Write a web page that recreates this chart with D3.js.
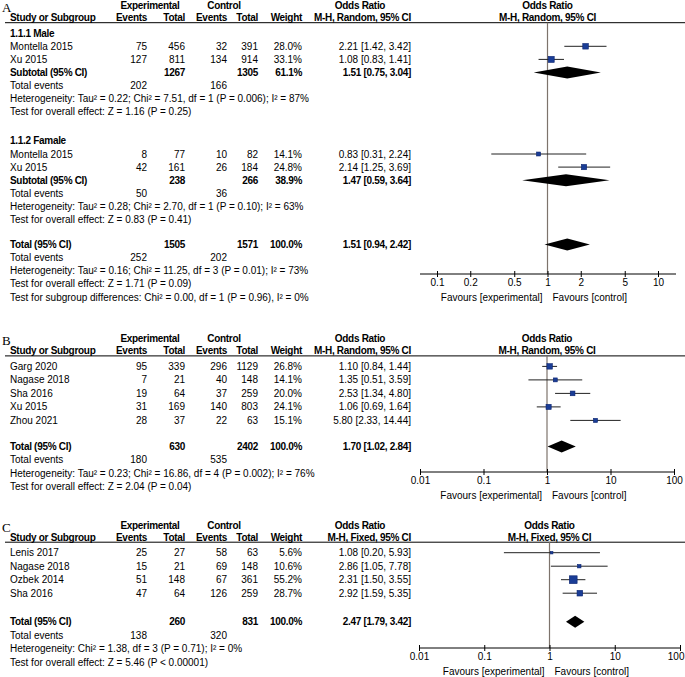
<!DOCTYPE html>
<html>
<head>
<meta charset="utf-8">
<script src="https://cdn.jsdelivr.net/npm/d3@7"></script>
<style>
  body { margin: 0; background: #fff; }
  text { font-family: "Liberation Sans", Arial, sans-serif; font-size: 10px; fill: #000; }
  .b { font-weight: bold; letter-spacing: -0.3px; }
  .panel-label { font-family: "Liberation Serif", "Times New Roman", serif; font-size: 13px; }
</style>
</head>
<body>
<svg width="685" height="677"></svg>
<script>
// ---------- data ----------
// counts = [exp events, exp total, ctrl events, ctrl total], or = [OR, lower, upper]

// A, 1.1.1 Male
var maleStudies = ["Montella 2015", "Xu 2015"]
var maleCounts = [[75, 456, 32, 391], [127, 811, 134, 914]]
var maleWeights = [28.0, 33.1]
var maleOR = [[2.21, 1.42, 3.42], [1.08, 0.83, 1.41]]
var maleSubtotal = [1267, 1305, 61.1]
var maleSubOR = [1.51, 0.75, 3.04]
var maleEvents = [202, 166]
var maleStats = ["Heterogeneity: Tau² = 0.22; Chi² = 7.51, df = 1 (P = 0.006); I² = 87%",
                 "Test for overall effect: Z = 1.16 (P = 0.25)"]

// A, 1.1.2 Famale
var femaleStudies = ["Montella 2015", "Xu 2015"]
var femaleCounts = [[8, 77, 10, 82], [42, 161, 26, 184]]
var femaleWeights = [14.1, 24.8]
var femaleOR = [[0.83, 0.31, 2.24], [2.14, 1.25, 3.69]]
var femaleSubtotal = [238, 266, 38.9]
var femaleSubOR = [1.47, 0.59, 3.64]
var femaleEvents = [50, 36]
var femaleStats = ["Heterogeneity: Tau² = 0.28; Chi² = 2.70, df = 1 (P = 0.10); I² = 63%",
                   "Test for overall effect: Z = 0.83 (P = 0.41)"]

// A, overall
var totalA = [1505, 1571, 100.0]
var totalAOR = [1.51, 0.94, 2.42]
var totalAEvents = [252, 202]
var totalAStats = ["Heterogeneity: Tau² = 0.16; Chi² = 11.25, df = 3 (P = 0.01); I² = 73%",
                   "Test for overall effect: Z = 1.71 (P = 0.09)",
                   "Test for subgroup differences: Chi² = 0.00, df = 1 (P = 0.96), I² = 0%"]
var ticksA = [0.1, 0.2, 0.5, 1, 2, 5, 10]

// B
var studiesB = ["Garg 2020", "Nagase 2018", "Sha 2016", "Xu 2015", "Zhou 2021"]
var countsB = [[95, 339, 296, 1129], [7, 21, 40, 148], [19, 64, 37, 259], [31, 169, 140, 803], [28, 37, 22, 63]]
var weightsB = [26.8, 14.1, 20.0, 24.1, 15.1]
var orB = [[1.10, 0.84, 1.44], [1.35, 0.51, 3.59], [2.53, 1.34, 4.80], [1.06, 0.69, 1.64], [5.80, 2.33, 14.44]]
var totalB = [630, 2402, 100.0]
var totalBOR = [1.70, 1.02, 2.84]
var totalBEvents = [180, 535]
var totalBStats = ["Heterogeneity: Tau² = 0.23; Chi² = 16.86, df = 4 (P = 0.002); I² = 76%",
                   "Test for overall effect: Z = 2.04 (P = 0.04)"]

// C
var studiesC = ["Lenis 2017", "Nagase 2018", "Ozbek 2014", "Sha 2016"]
var countsC = [[25, 27, 58, 63], [15, 21, 69, 148], [51, 148, 67, 361], [47, 64, 126, 259]]
var weightsC = [5.6, 10.6, 55.2, 28.7]
var orC = [[1.08, 0.20, 5.93], [2.86, 1.05, 7.78], [2.31, 1.50, 3.55], [2.92, 1.59, 5.35]]
var totalC = [260, 831, 100.0]
var totalCOR = [2.47, 1.79, 3.42]
var totalCEvents = [138, 320]
var totalCStats = ["Heterogeneity: Chi² = 1.38, df = 3 (P = 0.71); I² = 0%",
                   "Test for overall effect: Z = 5.46 (P < 0.00001)"]
var ticksBC = [0.01, 0.1, 1, 10, 100]

// ---------- layout ----------
var svg = d3.select("svg"),
    width = +svg.attr("width")
var col = { name: 10, expEv: 147, expTot: 185, ctlEv: 227, ctlTot: 258, weight: 302, orText: 411 }
var fmt = d3.format(".2f"), pct = d3.format(".1f")

function studyRows(names, counts, weights, ors) {
    return names.map((n, i) => ({ kind: "study", name: n, counts: counts[i], w: weights[i], or: ors[i] }))
}
function noteRows(list) { return list.map(t => ({ kind: "note", text: t })) }

var rowsA = [{ kind: "group", name: "1.1.1 Male" }]
    .concat(studyRows(maleStudies, maleCounts, maleWeights, maleOR))
    .concat([{ kind: "sub", name: "Subtotal (95% CI)", tot: maleSubtotal, or: maleSubOR },
             { kind: "events", ev: maleEvents }])
    .concat(noteRows(maleStats))
    .concat([{ kind: "gap", h: 16 }, { kind: "group", name: "1.1.2 Famale" }])
    .concat(studyRows(femaleStudies, femaleCounts, femaleWeights, femaleOR))
    .concat([{ kind: "sub", name: "Subtotal (95% CI)", tot: femaleSubtotal, or: femaleSubOR },
             { kind: "events", ev: femaleEvents }])
    .concat(noteRows(femaleStats))
    .concat([{ kind: "gap", h: 12 },
             { kind: "sub", name: "Total (95% CI)", tot: totalA, or: totalAOR },
             { kind: "events", ev: totalAEvents }])
    .concat(noteRows(totalAStats))

var rowsB = studyRows(studiesB, countsB, weightsB, orB)
    .concat([{ kind: "gap", h: 12.5 },
             { kind: "sub", name: "Total (95% CI)", tot: totalB, or: totalBOR },
             { kind: "events", ev: totalBEvents }])
    .concat(noteRows(totalBStats))

var rowsC = studyRows(studiesC, countsC, weightsC, orC)
    .concat([{ kind: "gap", h: 15 },
             { kind: "sub", name: "Total (95% CI)", tot: totalC, or: totalCOR },
             { kind: "events", ev: totalCEvents }])
    .concat(noteRows(totalCStats))

var panels = [
    { label: "A", top: 5.5, method: "Random", rows: rowsA, rowH: 13.1, axisY: 274, ticks: ticksA,
      scale: d3.scaleLog().domain([0.1, 10]).range([437, 658]), axisExtent: [420, 676] },
    { label: "B", top: 338.7, method: "Random", rows: rowsB, rowH: 13.5, axisY: 472, ticks: ticksBC,
      scale: d3.scaleLog().domain([0.01, 100]).range([420, 674]), axisExtent: [420, 674] },
    { label: "C", top: 525, method: "Fixed", rows: rowsC, rowH: 13.5, axisY: 648, ticks: ticksBC,
      scale: d3.scaleLog().domain([0.01, 100]).range([419, 680]), axisExtent: [419, 680] }
]

function txt(g, x, y, s, anchor, bold) {
    return g.append("text").attr("x", x).attr("y", y).attr("dy", "0.35em")
        .attr("text-anchor", anchor || "start").attr("class", bold ? "b" : null).text(s)
}

panels.forEach(p => {
    var g = svg.append("g")
    var x = p.scale
    var h1 = p.top, h2 = p.top + 12, line = p.top + 17.2
    var cx = x(1)

    // headers
    g.append("text").attr("class", "panel-label").attr("x", 2).attr("y", h1 + 2).attr("dy", "0.35em").text(p.label)
    txt(g, 150, h1, "Experimental", "middle", true)
    txt(g, 224, h1, "Control", "middle", true)
    txt(g, 360, h1, "Odds Ratio", "middle", true)
    txt(g, cx, h1, "Odds Ratio", "middle", true)
    txt(g, col.name, h2, "Study or Subgroup", "start", true)
    txt(g, col.expEv, h2, "Events", "end", true)
    txt(g, col.expTot, h2, "Total", "end", true)
    txt(g, col.ctlEv, h2, "Events", "end", true)
    txt(g, col.ctlTot, h2, "Total", "end", true)
    txt(g, col.weight, h2, "Weight", "end", true)
    txt(g, col.orText, h2, "M-H, " + p.method + ", 95% CI", "end", true)
    txt(g, cx, h2, "M-H, " + p.method + ", 95% CI", "middle", true)
    g.append("line").attr("x1", 5).attr("x2", width).attr("y1", line).attr("y2", line)
        .attr("stroke", "#000").attr("stroke-width", 1)

    // line of no effect
    g.append("line").attr("x1", cx).attr("x2", cx).attr("y1", line).attr("y2", p.axisY)
        .attr("stroke", "#7d736c").attr("stroke-width", 1.2)

    // rows
    var y = line + 10.5
    p.rows.forEach(r => {
        if (r.kind == "gap") { y += r.h; return }
        if (r.kind == "group") txt(g, col.name, y, r.name, "start", true)
        if (r.kind == "study") {
            txt(g, col.name, y, r.name)
            txt(g, col.expEv, y, r.counts[0], "end")
            txt(g, col.expTot, y, r.counts[1], "end")
            txt(g, col.ctlEv, y, r.counts[2], "end")
            txt(g, col.ctlTot, y, r.counts[3], "end")
            txt(g, col.weight, y, pct(r.w) + "%", "end")
            txt(g, col.orText, y, fmt(r.or[0]) + " [" + fmt(r.or[1]) + ", " + fmt(r.or[2]) + "]", "end")
            g.append("line").attr("x1", x(r.or[1])).attr("x2", x(r.or[2])).attr("y1", y).attr("y2", y)
                .attr("stroke", "#222").attr("stroke-width", 1)
            // square area follows the weight
            var s = 1.05 * Math.sqrt(r.w)
            g.append("rect").attr("x", x(r.or[0]) - s / 2).attr("y", y - s / 2)
                .attr("width", s).attr("height", s)
                .attr("fill", "#1a3d96").attr("stroke", "#0b2470").attr("stroke-width", 0.6)
        }
        if (r.kind == "sub") {
            txt(g, col.name, y, r.name, "start", true)
            txt(g, col.expTot, y, r.tot[0], "end", true)
            txt(g, col.ctlTot, y, r.tot[1], "end", true)
            txt(g, col.weight, y, pct(r.tot[2]) + "%", "end", true)
            txt(g, col.orText, y, fmt(r.or[0]) + " [" + fmt(r.or[1]) + ", " + fmt(r.or[2]) + "]", "end", true)
            g.append("path")
                .attr("d", "M" + x(r.or[1]) + "," + y + "L" + x(r.or[0]) + "," + (y - 6) +
                    "L" + x(r.or[2]) + "," + y + "L" + x(r.or[0]) + "," + (y + 6) + "Z")
                .attr("fill", "#000")
        }
        if (r.kind == "events") {
            txt(g, col.name, y, "Total events")
            txt(g, col.expEv, y, r.ev[0], "end")
            txt(g, col.ctlEv, y, r.ev[1], "end")
        }
        if (r.kind == "note") txt(g, col.name, y, r.text)
        y += p.rowH
    })

    // axis
    var axis = d3.axisBottom(x).tickValues(p.ticks).tickFormat(d => String(d)).tickSize(3).tickSizeOuter(0)
    var ga = g.append("g").attr("transform", "translate(0," + p.axisY + ")").call(axis)
    ga.select(".domain").attr("d", "M" + p.axisExtent[0] + ",0H" + p.axisExtent[1]).attr("stroke", "#000")
    ga.selectAll(".tick line").attr("y1", -3).attr("y2", 3).attr("stroke", "#000")
    ga.selectAll(".tick text").attr("y", 5)
    // keep the last label inside the page
    ga.selectAll(".tick text").filter(d => x(d) + 9 > width)
        .attr("text-anchor", "end").attr("x", d => width - 1 - x(d))

    txt(g, cx - 5, p.axisY + 23, "Favours [experimental]", "end")
    txt(g, cx + 5, p.axisY + 23, "Favours [control]", "start")
})
</script>
</body>
</html>
